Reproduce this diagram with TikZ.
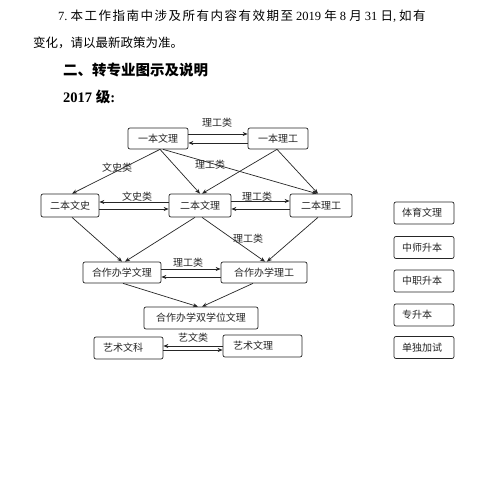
\documentclass[tikz,border=0pt]{standalone}
\usepackage{fontspec}
\setmainfont{Liberation Serif}
\newfontfamily\cjk{Noto Sans CJK SC}
\newfontfamily\cjkwide[LetterSpace=12]{Noto Sans CJK SC}
\usetikzlibrary{arrows.meta}
\begin{document}
\begin{tikzpicture}[x=1pt,y=-1pt,
  box/.style={draw=black!85, line width=0.7pt, rounded corners=2pt, inner sep=0pt,
    font=\cjk\fontsize{10}{12}\selectfont, text=black!85},
  lbl/.style={inner sep=0pt, font=\cjk\fontsize{10}{12}\selectfont, text=black!85},
  arr/.style={-{Stealth[length=5pt,width=4pt]}, line width=0.7pt, draw=black!85},
  hdr/.style={inner sep=0pt, anchor=base west, text=black}]
\useasboundingbox (0,0) rectangle (480,480);
\fill[white] (0,0) rectangle (480,480);
% header text
\node[hdr, font=\fontsize{12.5}{14}\selectfont] (l1) at (58,20.3)
  {7.\kern3pt{\cjkwide 本工作指南中涉及所有内容有效期至} 2019 {\cjk 年} 8 {\cjk 月} 31 {\cjk 日},\kern3pt{\cjkwide 如有}};
\node[hdr, font=\cjk\fontsize{12.5}{14}\selectfont] (l2) at (33,47.3) {变化，请以最新政策为准。};
\node[hdr, font=\cjk\bfseries\fontsize{14.5}{16}\selectfont] (l3) at (63,75.8) {二、转专业图示及说明};
\node[hdr, font=\bfseries\fontsize{14.5}{16}\selectfont] (l4) at (63,102) {2017 {\cjk 级}:};
% diagram boxes
\node[box, minimum width=60pt, minimum height=21pt] (yw) at (158,138.5) {一本文理};
\node[box, minimum width=60pt, minimum height=21pt] (yl) at (278,138.5) {一本理工};
\node[box, minimum width=58pt, minimum height=23pt] (ews) at (70,205.5) {二本文史};
\node[box, minimum width=62pt, minimum height=23pt] (ewl) at (200,205.5) {二本文理};
\node[box, minimum width=62pt, minimum height=23pt] (elg) at (321,205.5) {二本理工};
\node[box, minimum width=78pt, minimum height=21pt] (hw) at (122,272.5) {合作办学文理};
\node[box, minimum width=86pt, minimum height=21pt] (hl) at (264,272.5) {合作办学理工};
\node[box, minimum width=114pt, minimum height=22pt] (hs) at (201,318) {合作办学双学位文理};
\node[box, text width=51pt, inner xsep=9pt, align=left, minimum height=22pt] (yswk) at (128.5,348) {艺术文科};
\node[box, text width=59pt, inner xsep=10pt, align=left, minimum height=22pt] (yswl) at (262.5,346) {艺术文理};
% right column
\node[box, text width=44pt, inner xsep=8pt, align=left, minimum height=22pt] (r1) at (424,213) {体育文理};
\node[box, text width=44pt, inner xsep=8pt, align=left, minimum height=22pt] (r2) at (424,247.5) {中师升本};
\node[box, text width=44pt, inner xsep=8pt, align=left, minimum height=22pt] (r3) at (424,281) {中职升本};
\node[box, text width=44pt, inner xsep=8pt, align=left, minimum height=22pt] (r4) at (424,315) {专升本};
\node[box, text width=44pt, inner xsep=8pt, align=left, minimum height=22pt] (r5) at (424,347.5) {单独加试};
% horizontal arrows
\draw[arr] ([yshift=4.5pt]yw.east) -- ([yshift=4.5pt]yl.west);
\draw[arr] ([yshift=-4.5pt]yl.west) -- ([yshift=-4.5pt]yw.east);
\draw[arr] ([yshift=3.5pt]ewl.west) -- ([yshift=3.5pt]ews.east);
\draw[arr] ([yshift=-3.5pt]ews.east) -- ([yshift=-3.5pt]ewl.west);
\draw[arr] ([yshift=4.5pt]ewl.east) -- ([yshift=4.5pt]elg.west);
\draw[arr] ([yshift=-3.5pt]elg.west) -- ([yshift=-3.5pt]ewl.east);
\draw[arr] ([yshift=3.5pt]hw.east) -- ([yshift=3.5pt]hl.west);
\draw[arr] ([yshift=-4.5pt]hl.west) -- ([yshift=-4.5pt]hw.east);
\draw[arr] (yswl.west) -- (yswl.west -| yswk.east);
\draw[arr] ([yshift=-2pt]yswk.east) -- ([yshift=-2pt]yswk.east -| yswl.west);
% diagonal arrows
\draw[arr] ([xshift=2pt]yw.south) -- ([xshift=2pt]ews.north);
\draw[arr] ([xshift=2pt]yw.south) -- (ewl.north);
\draw[arr] ([xshift=5pt]yw.south) -- ([xshift=-4pt]elg.north);
\draw[arr] ([xshift=-1pt]yl.south) -- ([xshift=2pt]ewl.north);
\draw[arr] ([xshift=-1pt]yl.south) -- ([xshift=-3pt]elg.north);
\draw[arr] ([xshift=2pt]ews.south) -- (hw.north);
\draw[arr] ([xshift=-5pt]ewl.south) -- ([xshift=3pt]hw.north);
\draw[arr] ([xshift=2pt]ewl.south) -- ([xshift=1pt]hl.north);
\draw[arr] ([xshift=-3pt]elg.south) -- ([xshift=3pt]hl.north);
\draw[arr] ([xshift=1pt]hw.south) -- ([xshift=-3pt]hs.north);
\draw[arr] ([xshift=-11pt]hl.south) -- ([xshift=1pt]hs.north);
% labels
\node[lbl] (t1) at (217,123) {理工类};
\node[lbl] (t2) at (117,168) {文史类};
\node[lbl] (t3) at (210,165) {理工类};
\node[lbl] (t4) at (137,197) {文史类};
\node[lbl] (t5) at (257,197) {理工类};
\node[lbl] (t6) at (248,239) {理工类};
\node[lbl] (t7) at (188,263) {理工类};
\node[lbl] (t8) at (193,338) {艺文类};
\end{tikzpicture}
\end{document}
